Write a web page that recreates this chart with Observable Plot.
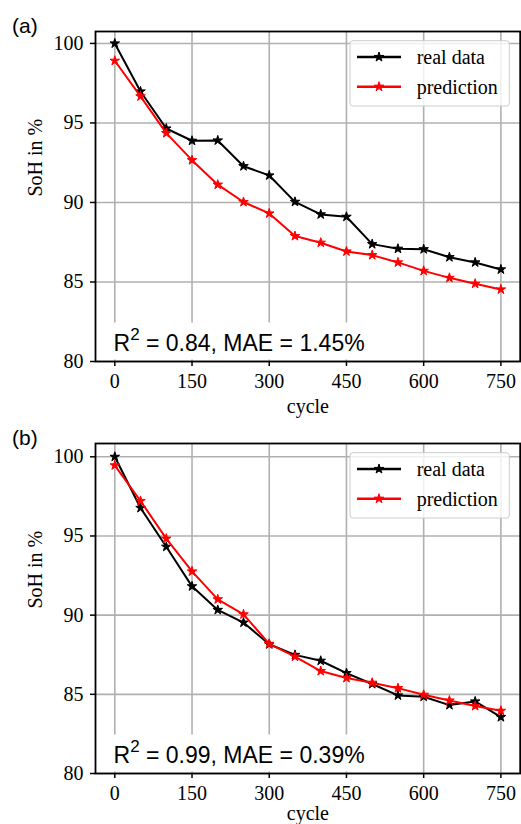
<!DOCTYPE html>
<html>
<head>
<meta charset="utf-8">
<script src="https://cdn.jsdelivr.net/npm/d3@7"></script>
<script src="https://cdn.jsdelivr.net/npm/@observablehq/plot@0.6"></script>
<style>
  html, body { margin: 0; padding: 0; background: #fff; }
  #chart { width: 521px; }
  #chart svg { display: block; overflow: visible; }
</style>
</head>
<body>
<div id="chart"></div>
<script>
// ---- data ----
const cycles = [0, 50, 100, 150, 200, 250, 300, 350, 400, 450, 500, 550, 600, 650, 700, 750];
const realA = [100.0, 96.98, 94.65, 93.88, 93.9, 92.28, 91.7, 90.04, 89.25, 89.1, 87.38, 87.09, 87.06, 86.56, 86.23, 85.79];
const predA = [98.91, 96.67, 94.36, 92.66, 91.12, 90.03, 89.31, 87.89, 87.47, 86.92, 86.69, 86.23, 85.7, 85.26, 84.89, 84.53];
const realB = [100.0, 96.77, 94.32, 91.82, 90.33, 89.53, 88.16, 87.49, 87.12, 86.34, 85.65, 84.93, 84.85, 84.32, 84.55, 83.56];
const predB = [99.46, 97.21, 94.83, 92.76, 91.0, 90.05, 88.19, 87.38, 86.47, 86.03, 85.73, 85.39, 84.97, 84.61, 84.26, 83.96];
const xTicks = [0, 150, 300, 450, 600, 750];
const yTicks = [80, 85, 90, 95, 100];
const seriesNames = ["real data", "prediction"];
const seriesColors = ["#000000", "#ff0000"];
const panelLabels = ["(a)", "(b)"];
const r2Values = ["0.84", "0.99"];
const maeValues = ["1.45%", "0.39%"];
const yMaxes = [100.75, 100.84];
const xLabel = "cycle";
const yLabel = "SoH in %";

const SERIF = "'Liberation Serif', 'Times New Roman', Times, serif";
const SANS = "'Liberation Sans', Arial, Helvetica, sans-serif";

function makePanel(i, real, pred) {
  const W = 521, H = 412, mt = 31, mb = 51, ml = 95, mr = 1.3;
  const rowsReal = cycles.map((c, j) => ({cycle: c, soh: real[j]}));
  const rowsPred = cycles.map((c, j) => ({cycle: c, soh: pred[j]}));
  const annot = `R2 = ${r2Values[i]}, MAE = ${maeValues[i]}`;
  const starR = 3.0;
  const lw = 2;
  const xLabelDy = i === 0 ? 51 : 46.5;
  const chart = Plot.plot({
    width: W, height: H,
    marginTop: mt, marginBottom: mb, marginLeft: ml, marginRight: mr,
    style: {fontFamily: SERIF, fontSize: "20px", color: "#000", background: "transparent", overflow: "visible"},
    x: {domain: [-37.5, 787.5]},
    y: {domain: [80, yMaxes[i]]},
    marks: [
      Plot.gridX(xTicks, {stroke: "#b0b0b0", strokeOpacity: 1, strokeWidth: 1.6}),
      Plot.gridY(yTicks, {stroke: "#b0b0b0", strokeOpacity: 1, strokeWidth: 1.6}),
      Plot.text([annot], {text: d => d, frameAnchor: "bottom-left", dx: 18, dy: -11, lineAnchor: "bottom",
        textAnchor: "start", fontFamily: SANS, fontSize: 23, fill: "#000"}),
      Plot.line(rowsReal, {x: "cycle", y: "soh", stroke: seriesColors[0], strokeWidth: lw}),
      Plot.dot(rowsReal, {x: "cycle", y: "soh", symbol: "star", r: starR, fill: seriesColors[0], stroke: seriesColors[0], strokeWidth: 1}),
      Plot.line(rowsPred, {x: "cycle", y: "soh", stroke: seriesColors[1], strokeWidth: lw}),
      Plot.dot(rowsPred, {x: "cycle", y: "soh", symbol: "star", r: starR, fill: seriesColors[1], stroke: seriesColors[1], strokeWidth: 1}),
      Plot.frame({stroke: "#000", strokeWidth: 1.8}),
      Plot.axisX(xTicks, {tickSize: 5, tickPadding: 7, label: null, tickFormat: d => String(d), fontSize: 20, strokeWidth: 1.5}),
      Plot.axisY(yTicks, {tickSize: 5, tickPadding: 7, label: null, tickFormat: d => String(d), fontSize: 20, strokeWidth: 1.5}),
      Plot.text([xLabel], {text: d => d, frameAnchor: "bottom", dy: xLabelDy, lineAnchor: "bottom", fontFamily: SERIF, fontSize: 20}),
      Plot.text([yLabel], {text: d => d, frameAnchor: "left", dx: -60, rotate: -90, fontFamily: SERIF, fontSize: 20}),
      Plot.text([panelLabels[i]], {text: d => d, frameAnchor: "top-left", dx: -83.5, dy: 1.5, lineAnchor: "bottom",
        textAnchor: "start", fontFamily: SANS, fontSize: 21})
    ]
  });

  const svg = d3.select(chart);
  // superscript in annotation + white box behind it
  svg.selectAll("text").filter(function() { return this.textContent === annot; }).each(function() {
    const t = d3.select(this);
    t.text(null);
    t.append("tspan").text("R");
    t.append("tspan").attr("dy", "-11").attr("font-size", "17").text("2");
    t.append("tspan").attr("dy", "11").text(` = ${r2Values[i]}, MAE = ${maeValues[i]}`);
    const g = this.parentNode;
    const fb = H - mb;
    d3.select(g.parentNode).insert("rect", () => g)
      .attr("x", ml + 12).attr("y", fb - 38.5).attr("width", 265).attr("height", 37)
      .attr("fill", "#fff");
  });

  // legend
  const fr = W - mr;
  const lg = svg.append("g").attr("text-anchor", "start");
  lg.append("rect")
    .attr("x", fr - 169.7).attr("y", mt + 9.7).attr("width", 159.3).attr("height", 65.3)
    .attr("rx", 3).attr("fill", "#fff").attr("fill-opacity", 0.8)
    .attr("stroke", "#cccccc").attr("stroke-width", 1);
  const star = d3.symbol(d3.symbolStar, Math.PI * starR * starR)();
  seriesNames.forEach((name, k) => {
    const yy = mt + 26 + k * 29.7;
    lg.append("line").attr("x1", fr - 162.7).attr("x2", fr - 118.7).attr("y1", yy).attr("y2", yy)
      .attr("stroke", seriesColors[k]).attr("stroke-width", 2.4);
    lg.append("path").attr("d", star).attr("transform", `translate(${fr - 140.7},${yy})`)
      .attr("fill", seriesColors[k]).attr("stroke", seriesColors[k]).attr("stroke-width", 1);
    lg.append("text").attr("x", fr - 103).attr("y", yy + 7.3).attr("text-anchor", "start")
      .attr("font-family", SERIF).attr("font-size", 20).attr("fill", "#000").text(name);
  });
  return chart;
}

const root = document.getElementById("chart");
root.appendChild(makePanel(0, realA, predA));
root.appendChild(makePanel(1, realB, predB));
</script>
</body>
</html>
